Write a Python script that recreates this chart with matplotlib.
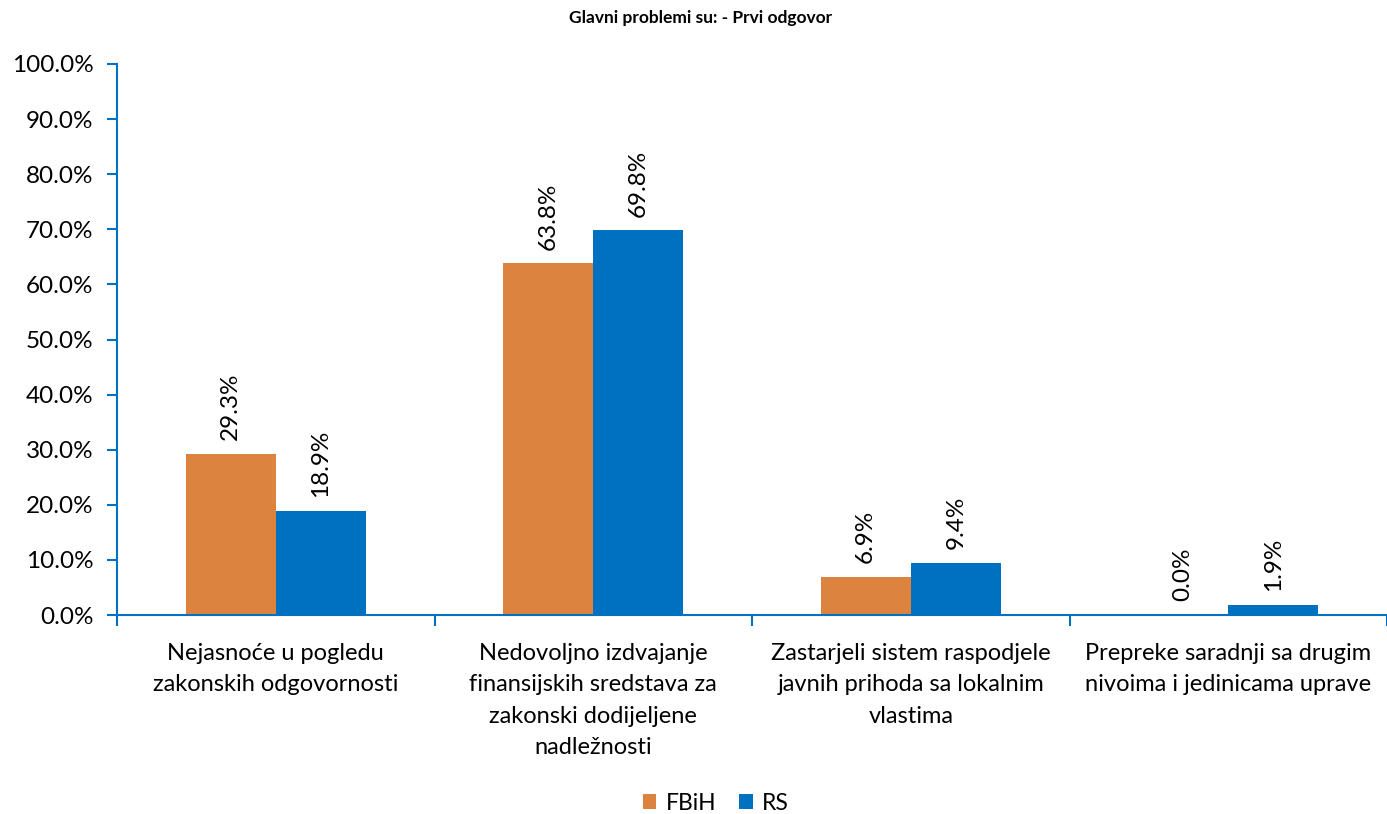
import matplotlib.pyplot as plt
import numpy as np

categories = [
    "Nejasnoće u pogledu\nzakonskih odgovornosti",
    "Nedovoljno izdvajanje\nfinansijskih sredstava za\nzakonski dodijeljene\nnadležnosti",
    "Zastarjeli sistem raspodjele\njavnih prihoda sa lokalnim\nvlastima",
    "Prepreke saradnji sa drugim\nnivoima i jedinicama uprave",
]
fbih = [29.3, 63.8, 6.9, 0.0]
rs = [18.9, 69.8, 9.4, 1.9]
series_names = ["FBiH", "RS"]

plt.rcParams["font.family"] = ["Lato", "DejaVu Sans"]

ORANGE = "#DC843F"
BLUE = "#0070C0"
AXIS = "#0070C0"

fig = plt.figure(figsize=(13.87, 8.14), dpi=100)
ax = fig.add_axes([117 / 1387, 1 - 615 / 814, 1 - 117 / 1387, (615 - 64) / 814])

x = np.arange(len(categories))
w = 0.284
b1 = ax.bar(x - w / 2, fbih, w, color=ORANGE, label=series_names[0])
b2 = ax.bar(x + w / 2, rs, w, color=BLUE, label=series_names[1])

for bars, vals in ((b1, fbih), (b2, rs)):
    for bar, v in zip(bars, vals):
        ax.annotate(f"{v:.1f}%", (bar.get_x() + bar.get_width() / 2, v),
                    xytext=(0, 10), textcoords="offset points",
                    rotation=90, ha="center", va="bottom", fontsize=17.5)

ax.set_xlim(-0.5, len(categories) - 0.5)
ax.set_ylim(0, 100)
ax.set_yticks(np.arange(0, 101, 10))
ax.set_yticklabels([f"{t:.1f}%" for t in range(0, 101, 10)], fontsize=17.5)

# category labels between boundary ticks
ax.set_xticks(np.arange(-0.5, len(categories), 1.0))
ax.set_xticklabels([])
ax.set_xticks(x, minor=True)
ax.set_xticklabels(categories, minor=True, fontsize=17, linespacing=1.62)
ax.tick_params(axis="x", which="minor", length=0, pad=20)
ax.tick_params(axis="x", which="major", length=8, color=AXIS, width=1.5, direction="out")
ax.tick_params(axis="y", length=7, color=AXIS, width=1.5, direction="out", pad=10)

for side in ("top", "right"):
    ax.spines[side].set_visible(False)
for side in ("left", "bottom"):
    ax.spines[side].set_color(AXIS)
    ax.spines[side].set_linewidth(1.5)

fig.text(0.505, 1 - 18 / 814, "Glavni problemi su: - Prvi odgovor",
         ha="center", va="center", fontsize=12.5, fontweight="bold")

fig.legend(handles=[b1, b2], loc="center", bbox_to_anchor=(0.516, 1 - 803 / 814),
           ncol=2, frameon=False, fontsize=16.5, handlelength=0.6, handleheight=0.6,
           handletextpad=0.4, columnspacing=1.0)

fig.savefig("out.png", dpi=100)
